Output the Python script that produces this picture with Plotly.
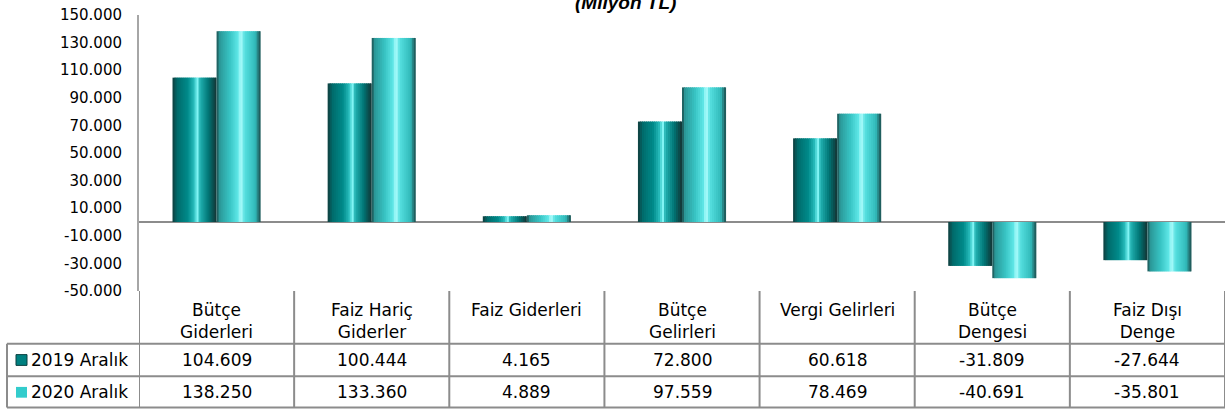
#budget chart - 2019 vs 2020 aralik, cylinder look bars with data table under
import plotly.graph_objects as go

# data
categories = ["Bütçe<br>Giderleri", "Faiz Hariç<br>Giderler", "Faiz Giderleri", "Bütçe<br>Gelirleri",
              "Vergi Gelirleri", "Bütçe<br>Dengesi", "Faiz Dışı<br>Denge"]
series_names = ["2019 Aralık", "2020 Aralık"]
vals_2019 = [104609, 100444, 4165, 72800, 60618, -31809, -27644]
vals_2020 = [138250, 133360, 4889, 97559, 78469, -40691, -35801]
table_2019 = ["104.609", "100.444", "4.165", "72.800", "60.618", "-31.809", "-27.644"]
table_2020 = ["138.250", "133.360", "4.889", "97.559", "78.469", "-40.691", "-35.801"]
ytick_vals = [150000, 130000, 110000, 90000, 70000, 50000, 30000, 10000, -10000, -30000, -50000]
ytick_text = ["150.000", "130.000", "110.000", "90.000", "70.000", "50.000", "30.000",
              "10.000", "-10.000", "-30.000", "-50.000"]

FONT = "DejaVu Sans"
W, H = 1231, 416
L, R, T, B = 139, 6, 9, 125

# colour stops for the fake cylinder shading (left -> right)
stops_2019 = [(0, "#123c3c"), (0.1, "#006a6a"), (0.35, "#008b8b"), (0.5, "#2cc0c0"),
              (0.56, "#8fffff"), (0.62, "#22b2b2"), (0.82, "#007474"), (0.93, "#0b4d4d"), (1, "#173232")]
stops_2020 = [(0, "#1a4a4a"), (0.07, "#2b9999"), (0.3, "#38c4c4"), (0.48, "#5ee6e6"),
              (0.55, "#b4ffff"), (0.63, "#56e0e0"), (0.88, "#31baba"), (0.96, "#236c6c"), (1, "#1c4c4c")]


def hex2rgb(h):
    return tuple(int(h[i:i + 2], 16) for i in (1, 3, 5))


def grad(stops, t):
    for (t0, c0), (t1, c1) in zip(stops, stops[1:]):
        if t0 <= t <= t1:
            f = (t - t0) / (t1 - t0)
            a, b = hex2rgb(c0), hex2rgb(c1)
            return "rgb(%d,%d,%d)" % tuple(round(a[i] + (b[i] - a[i]) * f) for i in range(3))
    return stops[-1][1]


fig = go.Figure()

bw = 0.284   # bar width in category units
N = 22       # strips per bar
x_idx = list(range(len(categories)))
for vals, start, stops in [(vals_2019, -bw, stops_2019), (vals_2020, 0, stops_2020)]:
    sw = bw / N
    for k in range(N):
        fig.add_trace(go.Bar(
            x=x_idx, y=vals,
            width=sw * 1.6 if k < N - 1 else sw,
            offset=start + k * sw,
            marker=dict(color=grad(stops, (k + 0.5) / N), line=dict(width=0)),
            showlegend=False, hoverinfo="skip"))

fig.update_layout(
    width=W, height=H,
    margin=dict(l=L, r=R, t=T, b=B),
    paper_bgcolor="white", plot_bgcolor="white",
    barmode="overlay",
    font=dict(family=FONT, size=15, color="black"),
    showlegend=False)

fig.update_xaxes(range=[-0.5, 6.5], showticklabels=False, showgrid=False, zeroline=False,
                 showline=False, ticks="")
fig.update_yaxes(range=[-50000, 150000], tickvals=ytick_vals, ticktext=ytick_text,
                 showgrid=False, zeroline=True, zerolinecolor="#8c8c8c", zerolinewidth=2,
                 showline=True, linecolor="#a6a6a6", linewidth=2, ticks="",
                 ticklabelstandoff=12, ticklabeloverflow="allow", tickfont=dict(size=15))

# table grid
def py(px):
    # pixel y -> paper y
    return (H - B - px) / (H - T - B)

def pxx(px):
    return (px - L) / (W - L - R)

line = dict(color="#8c8c8c", width=2)
shapes = []
y_rows = [291, 345, 378, 410]
for yy in y_rows[1:]:
    shapes.append(dict(type="line", xref="paper", yref="paper", x0=pxx(7), x1=1, y0=py(yy), y1=py(yy), line=line))
for i in range(len(categories) + 1):
    shapes.append(dict(type="line", xref="x", yref="paper", x0=i - 0.5, x1=i - 0.5,
                       y0=py(291), y1=py(410), line=line))
shapes.append(dict(type="line", xref="paper", yref="paper", x0=pxx(7), x1=pxx(7),
                   y0=py(345), y1=py(410), line=line))

# legend keys
shapes.append(dict(type="rect", xref="paper", yref="paper", x0=pxx(16), x1=pxx(27),
                   y0=py(367), y1=py(356), fillcolor="#008080", line=dict(color="#0b4040", width=1)))
shapes.append(dict(type="rect", xref="paper", yref="paper", x0=pxx(16), x1=pxx(27),
                   y0=py(400), y1=py(389), fillcolor="#33cccc", line=dict(width=0)))
fig.update_layout(shapes=shapes)

ann = []
for i, c in enumerate(categories):
    ann.append(dict(x=i, y=py(298), xref="x", yref="paper", text=c, showarrow=False,
                    yanchor="top", font=dict(size=17)))
    ann.append(dict(x=i, y=py(361.5), xref="x", yref="paper", text=table_2019[i], showarrow=False,
                    yanchor="middle", font=dict(size=17)))
    ann.append(dict(x=i, y=py(394), xref="x", yref="paper", text=table_2020[i], showarrow=False,
                    yanchor="middle", font=dict(size=17)))
for name, yy in zip(series_names, [361.5, 394]):
    ann.append(dict(x=pxx(29), y=py(yy), xref="paper", yref="paper", text=name, showarrow=False,
                    xanchor="left", yanchor="middle", font=dict(size=17)))

# title sits partly above the top edge, as in the original
ann.append(dict(x=pxx(625), y=py(-4), xref="paper", yref="paper", text="<b><i>(Milyon TL)</i></b>",
                showarrow=False, yanchor="middle",
                font=dict(family="Liberation Sans", size=19)))
fig.update_layout(annotations=ann)

# page body has an 8px default margin, drop it so the chart sits at the window corner
fig.write_html("out.html", config={"displayModeBar": False},
               post_script="document.body.style.margin='0';")
